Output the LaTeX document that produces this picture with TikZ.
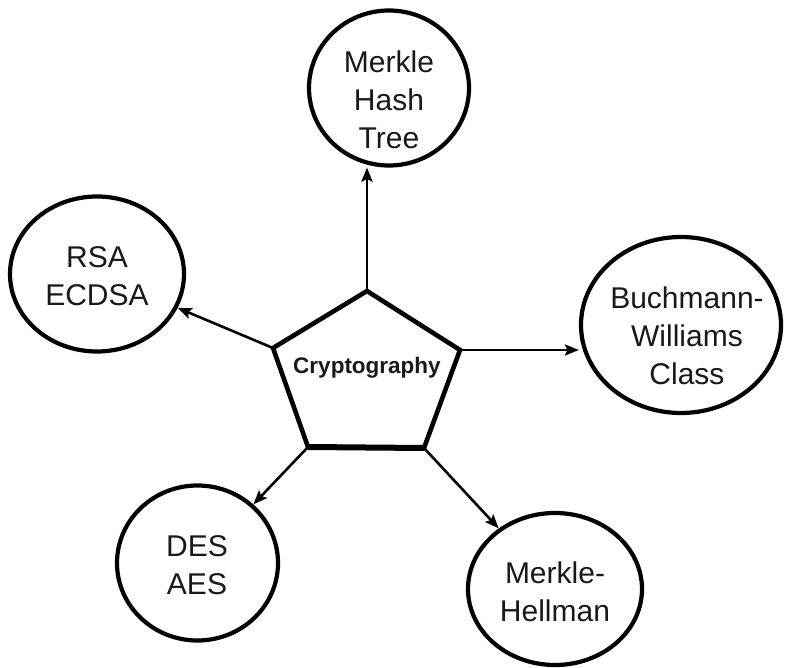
\documentclass[tikz,border=0pt]{standalone}
\usepackage{fontspec}
\setmainfont{Liberation Sans}
\usetikzlibrary{shapes.geometric,arrows.meta}
\begin{document}
\begin{tikzpicture}[x=1pt,y=-1pt,
  bubble/.style={draw=black, line width=4.2pt, ellipse, fill=white, inner sep=0pt},
  bubtext/.style={align=center, font=\fontsize{30}{38}\selectfont, inner sep=0pt, text=black!90},
  hubtext/.style={font=\bfseries\fontsize{22.5}{27}\selectfont, inner sep=0pt, text=black!90},
  link/.style={line width=2.6pt, -{Stealth[length=14pt,width=11pt,inset=2.5pt]}},
  hubedge/.style={line width=4.6pt, line join=miter}]
\useasboundingbox (0,0) rectangle (785,668);

% outer topics
\node[bubble, minimum width=160pt, minimum height=155pt] (mht) at (389,88) {};
\node[bubble, minimum width=174pt, minimum height=155pt] (rsa) at (97,274) {};
\node[bubble, minimum width=200pt, minimum height=176pt] (bwc) at (681,325) {};
\node[bubble, minimum width=161pt, minimum height=155pt] (des) at (197.5,563) {};
\node[bubble, minimum width=174pt, minimum height=152pt] (mh) at (555,589) {};

\node[bubtext] (mhtlabel) at (389,99.5) {Merkle\\Hash\\Tree};
\node[bubtext] (rsalabel) at (97,276.5) {RSA\\ECDSA};
\node[bubtext] (bwclabel) at (687,336) {Buchmann-\\Williams\\Class};
\node[bubtext] (deslabel) at (197,565) {DES\\AES};
\node[bubtext] (mhlabel) at (555,591.5) {Merkle-\\Hellman};

% central pentagon
\coordinate (ptop) at (367,291);
\coordinate (pur) at (460,350);
\coordinate (plr) at (424,448);
\coordinate (pll) at (308,447);
\coordinate (pul) at (273,348);

\draw[hubedge] (ptop) -- (pur) -- (plr) -- (pll) -- (pul) -- cycle;
\draw[line width=6pt] (pll) -- (plr);
\node[hubtext] (hub) at (367,368) {Cryptography};

% connectors
\draw[link] (ptop) -- (ptop |- mht.south);
\draw[link] (pul) -- (rsa);
\draw[link] (pur) -- (pur -| bwc.west);
\draw[link] (pll) -- (des);
\draw[link] (plr) -- (mh);
\end{tikzpicture}
\end{document}
